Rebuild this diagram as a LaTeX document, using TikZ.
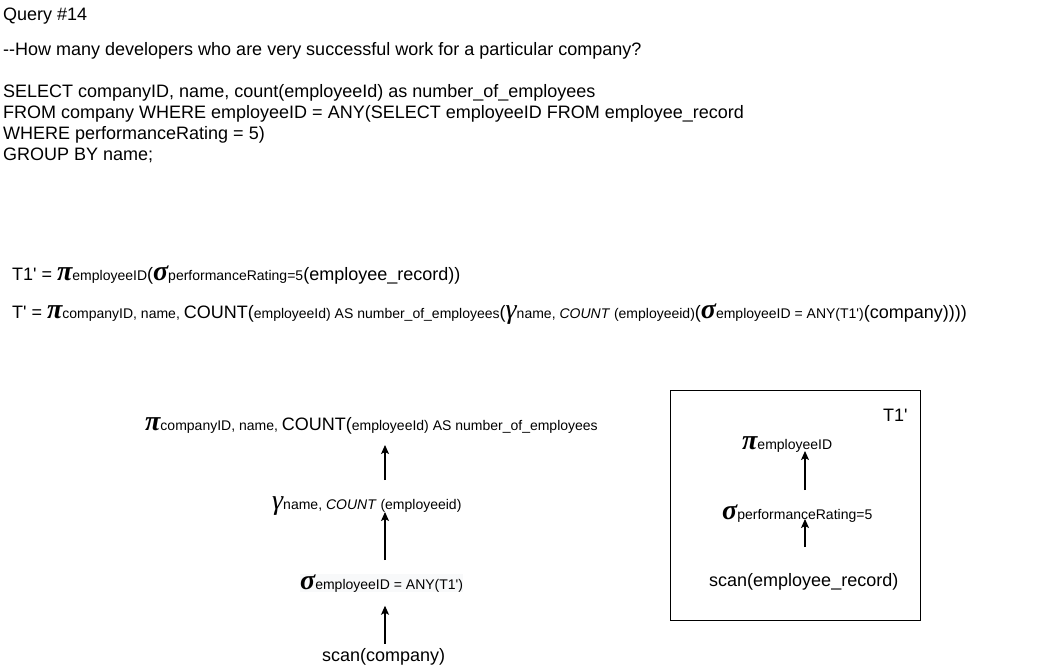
\documentclass[tikz,border=0pt]{standalone}
\usepackage{fontspec}
\setmainfont{Liberation Sans}
\newfontfamily\grk{Liberation Serif}
\usetikzlibrary{arrows.meta}
\newcommand\smtx[1]{{\fontsize{14}{16}\selectfont #1}}
\newcommand\lgtx[1]{{\fontsize{18}{21}\selectfont #1}}
\newcommand\sq{\textquotesingle}
\newcommand\gpi{{\grk\bfseries\itshape\fontsize{28}{28}\selectfont π}}
\newcommand\gsig{{\grk\bfseries\itshape\fontsize{28}{28}\selectfont σ}}
\newcommand\ggam{{\grk\itshape\fontsize{28}{28}\selectfont γ}}
\tikzset{
  txt/.style={inner sep=0pt, anchor=base west, font=\fontsize{18}{21}\selectfont},
  arr/.style={-{Stealth[length=9pt,width=8pt,inset=2pt]}, line width=1.1pt},
}
\begin{document}
\begin{tikzpicture}[x=1pt,y=-1pt]
\useasboundingbox[fill=white] (0,0) rectangle (1041,671);
% header text
\node[txt] (q) at (3,21) {Query \#14};
\node[txt] (c) at (3,56) {-{}-How many developers who are very successful work for a particular company?};
\node[txt] (s1) at (3,98) {SELECT companyID, name, count(employeeId) as number\_of\_employees};
\node[txt] (s2) at (3,119) {FROM company WHERE employeeID = ANY(SELECT employeeID FROM employee\_record};
\node[txt] (s3) at (3,140) {WHERE performanceRating = 5)};
\node[txt] (s4) at (3,161) {GROUP BY name;};
% formulas
\node[txt] (f1) at (12,280) {T1\sq{} = \gpi\smtx{employeeID}(\gsig\smtx{performanceRating=5}(employee\_record))};
\node[txt] (f2) at (12,318) {T\sq{} = \gpi\smtx{companyID, name, }COUNT(\smtx{employeeId) AS number\_of\_employees}(\ggam\smtx{name, \textit{COUNT} (employeeid)}(\gsig\smtx{employeeID = ANY(T1\sq)}(company))))};
% left tree
\node[txt] (p) at (145,430) {\gpi\smtx{companyID, name, }COUNT(\smtx{employeeId) AS number\_of\_employees}};
\node[txt] (g) at (272,509) {\ggam\smtx{name, \textit{COUNT} (employeeid)}};
\node[txt, fill={rgb,255:red,248;green,249;blue,250}] (sg) at (300,589) {\gsig\smtx{employeeID = ANY(T1\sq)}};
\node[txt] (sc) at (322,661) {scan(company)};
\draw[arr] (sc.north -| 385,0) ++(0,-4) -- ++(0,-38);
\draw[arr] (385,560) -- (385,512);
\draw[arr] (385,480) -- (385,445);
% right box
\node[draw, line width=1pt, minimum width=250pt, minimum height=230pt, anchor=north west, inner sep=0pt] (box) at (670,390) {};
\node[txt] (t1) at (883,421) {T1\sq};
\node[txt] (bp) at (742,449) {\gpi\smtx{employeeID}};
\node[txt] (bs) at (722,519) {\gsig\smtx{performanceRating=5}};
\node[txt] (be) at (709,586) {scan(employee\_record)};
\draw[arr] (805,547) -- (805,519);
\draw[arr] (805,490) -- (805,451);
\end{tikzpicture}
\end{document}
